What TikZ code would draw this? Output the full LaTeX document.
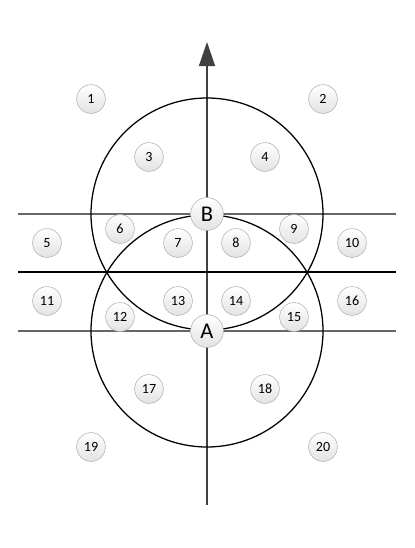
\documentclass[tikz,border=0pt]{standalone}
\usepackage{fontspec}
\setmainfont{Carlito}
\usetikzlibrary{positioning,arrows.meta}

\tikzset{
  num/.style={circle, draw=gray!60, top color=white, bottom color=gray!22, minimum size=0.72cm, inner sep=0pt, font=\fontsize{10}{11}\selectfont},
  pt/.style={circle, draw=gray!60, top color=white, bottom color=gray!22, minimum size=0.82cm, inner sep=0pt, font=\fontsize{16}{17}\selectfont},
  axis/.style={draw=gray!75!black, line width=1pt},
  band/.style={draw=gray!80!black, line width=0.9pt},
}

\begin{document}
\begin{tikzpicture}[x=0.025cm, y=-0.025cm, >={Triangle[length=0.6cm, width=0.4cm]}]
      \useasboundingbox (0,0) rectangle (415,548);
      % axis and lines
      \coordinate (bot) at (207,505);
      \coordinate (top) at (207,42);
      \draw[axis, ->, color=black!75] (bot) -- (top);
      \coordinate (l1) at (18,214);  \coordinate (r1) at (396,214);
      \coordinate (l2) at (18,272);  \coordinate (r2) at (396,272);
      \coordinate (l3) at (18,331);  \coordinate (r3) at (396,331);
      \draw[band] (l1) -- (r1);
      \draw[black, line width=1.1pt] (l2) -- (r2);
      \draw[band] (l3) -- (r3);
      % circles round B and A
      \draw[black, line width=0.9pt] (207,214) circle[radius=116];
      \draw[black, line width=0.9pt] (207,331) circle[radius=116];
      % points
      \node[pt] (B) at (207,214) {B};
      \node[pt] (A) at (207,331) {A};
      % regions
      \foreach \i/\x/\y in {1/91/99, 2/323/99, 3/149/157, 4/265/157,
          5/47/243, 6/120/229, 7/178/243, 8/236/243, 9/294/229, 10/352/243,
          11/47/301, 12/120/317, 13/178/301, 14/236/301, 15/294/317, 16/352/301,
          17/149/389, 18/265/389, 19/91/447, 20/323/447}
        \node[num] (n\i) at (\x,\y) {\i};
    \end{tikzpicture}
\end{document}
